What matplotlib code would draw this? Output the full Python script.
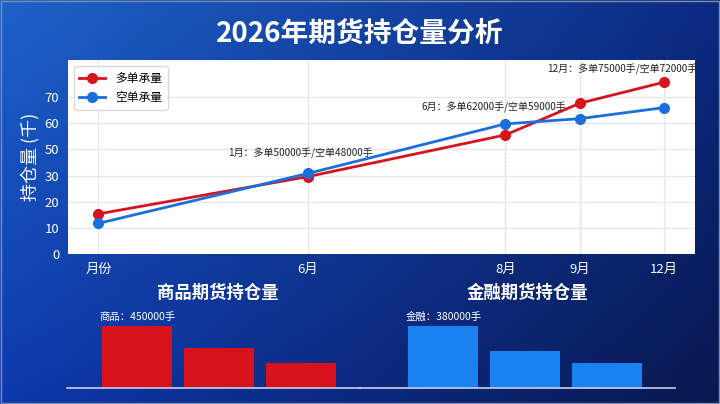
import numpy as np
import matplotlib
matplotlib.use("Agg")
import matplotlib.pyplot as plt
from matplotlib.patches import Rectangle

plt.rcParams['font.family'] = ['Noto Sans CJK SC', 'DejaVu Sans']

# ---- data ----
month_labels = ['月份', '6月', '8月', '9月', '12月']
month_pos = [0.49, 3.83, 6.98, 8.17, 9.51]
long_vals = [15.4, 29.6, 45.5, 57.6, 65.6]
short_vals = [11.8, 30.8, 49.7, 51.7, 55.9]
ytick_vals = [0, 10, 20, 30, 40, 50, 60]
ytick_labels = ['0', '10', '20', '30', '50', '60', '70']
note_idx = [1, 2, 4]
note_text = ['1月：多单50000手/空单48000手',
             '6月：多单62000手/空单59000手',
             '12月：多单75000手/空单72000手']
note_offset = [(-5, 10.5), (-8, 7.5), (-30, 5)]

goods_vals = [45, 29, 18]
fin_vals = [38, 22.4, 15.4]
goods_note = '商品：450000手'
fin_note = '金融：380000手'

RED = '#d7141e'
BLUE = '#1a6fdc'

fig = plt.figure(figsize=(7.2, 4.04), dpi=100)

# background gradient (bilinear between corner colours)
bg = fig.add_axes([0, 0, 1, 1], zorder=-10)
tl = np.array([0x1e, 0x62, 0xca]) / 255
tr = np.array([0x0b, 0x2a, 0x82]) / 255
bl = np.array([0x0d, 0x38, 0xac]) / 255
br = np.array([0x09, 0x18, 0x4e]) / 255
u = np.linspace(0, 1, 200)[None, :, None]
v = np.linspace(0, 1, 120)[:, None, None]
img = (1 - v) * ((1 - u) * tl + u * tr) + v * ((1 - u) * bl + u * br)
bg.imshow(img, aspect='auto', extent=[0, 1, 0, 1])
bg.set_axis_off()
fig.add_artist(Rectangle((0.001, 0.002), 0.997, 0.995, transform=fig.transFigure,
                         fill=False, edgecolor='#7f8ca6', linewidth=1.0))

fig.text(0.5, 0.918, '2026年期货持仓量分析', color='white', fontsize=20,
         fontweight='bold', ha='center', va='center')

# ---- line chart ----
ax = fig.add_axes([0.094, 0.3705, 0.871, 0.4807])
ax.set_facecolor('white')
ax.plot(month_pos, long_vals, color=RED, lw=2, marker='o', ms=7, label='多单承量', zorder=3)
ax.plot(month_pos, short_vals, color=BLUE, lw=2, marker='o', ms=7, label='空单承量', zorder=3)
for i in range(2, len(month_pos)):
    ax.vlines(month_pos[i], 0, max(long_vals[i], short_vals[i]), colors='#9cc0e6',
              linestyles=':', lw=1, zorder=1)
ax.set_xlim(0, 10)
ax.set_ylim(0, 74)
ax.set_xticks(month_pos)
ax.set_xticklabels(month_labels)
ax.set_yticks(ytick_vals)
ax.set_yticklabels(ytick_labels)
ax.tick_params(colors='white', labelsize=9.5, length=0, pad=6)
ax.grid(True, color='#e2e6ee', lw=0.8, zorder=0)
for s in ax.spines.values():
    s.set_visible(False)
ax.set_ylabel('持仓量 (千)', color='white', fontsize=13, labelpad=4)
for k, i in enumerate(note_idx):
    ax.annotate(note_text[k], xy=(month_pos[i], max(long_vals[i], short_vals[i])),
                xytext=note_offset[k], textcoords='offset points',
                ha='center', va='bottom', fontsize=7.2, color='#222222')
leg = ax.legend(loc='upper left', fontsize=8.5, frameon=True, borderpad=0.5,
                handlelength=2.2, bbox_to_anchor=(0.0, 1.0))
leg.get_frame().set_edgecolor('#d0d0d0')

# ---- bar charts ----
def bar_panel(rect, vals, color, note, title, tx, xl):
    b = fig.add_axes(rect)
    b.patch.set_alpha(0)
    pos = np.arange(len(vals))
    b.bar(pos, vals, width=0.85, color=color)
    b.set_xlim(*xl)
    b.set_ylim(0, max(vals) * 1.2)
    b.set_xticks([])
    b.set_yticks([])
    for name, s in b.spines.items():
        s.set_visible(name == 'bottom')
    b.spines['bottom'].set_color('#c8d0e8')
    b.spines['bottom'].set_linewidth(1.2)
    b.text(pos[0] - 0.45, vals[0] * 1.06, note, color='white', fontsize=7.5,
           ha='left', va='bottom')
    fig.text(tx, 0.275, title, color='white', fontsize=12.5, fontweight='bold',
             ha='center', va='center')

bar_panel([0.093, 0.0396, 0.407, 0.184], goods_vals, '#d8121a', goods_note,
          '商品期货持仓量', 0.303, (-0.85, 2.72))
bar_panel([0.5, 0.0396, 0.4375, 0.184], fin_vals, '#1a82f0', fin_note,
          '金融期货持仓量', 0.733, (-1.01, 2.83))

fig.savefig('out.png', dpi=100)
